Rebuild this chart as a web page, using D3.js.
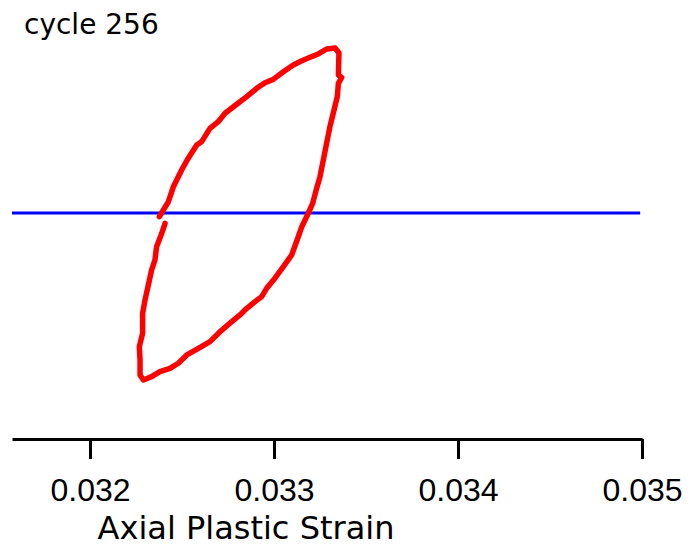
<!DOCTYPE html>
<html lang="en">
<head>
    <meta charset="UTF-8">
    <title>cycle 256</title>
    <script src="https://d3js.org/d3.v7.min.js"></script>
    <style>
        body { margin: 0; background: #fff; }
        svg { display: block; font-family: "DejaVu Sans", sans-serif; }
        .x-axis path, .x-axis line { stroke: #000; stroke-width: 3; }
        .x-axis text { font-size: 32px; fill: #000; font-family: "Liberation Sans", Arial, sans-serif; }
    </style>
</head>
<body>
    <svg id="chart" width="698" height="549"></svg>
    <script>
        // hysteresis loop, cycle 256 (stress normalised, strain)
        const strain = [
            0.032377, 0.032426, 0.032453, 0.032498, 0.032534, 0.032580, 0.032607, 0.032652,
            0.032697, 0.032734, 0.032815, 0.032852, 0.032906, 0.032951, 0.032996, 0.033051,
            0.033105, 0.033151, 0.033196, 0.033241, 0.033286, 0.033332, 0.033353, 0.033350,
            0.033368, 0.033350, 0.033344, 0.033322, 0.033304, 0.033286, 0.033268, 0.033250,
            0.033232, 0.033210, 0.033186, 0.033151, 0.033132, 0.033096, 0.033051, 0.033005,
            0.032960, 0.032933, 0.032897, 0.032852, 0.032815, 0.032761, 0.032707, 0.032652,
            0.032589, 0.032526, 0.032480, 0.032435, 0.032380, 0.032335, 0.032290, 0.032272,
            0.032272, 0.032268, 0.032286, 0.032286, 0.032299, 0.032317, 0.032335, 0.032353,
            0.032362, 0.032390, 0.032408
        ];
        const stress = [
            -0.022, 0.068, 0.158, 0.259, 0.330, 0.410, 0.430, 0.510,
            0.550, 0.601, 0.670, 0.701, 0.751, 0.785, 0.805, 0.851,
            0.892, 0.917, 0.938, 0.958, 0.988, 0.994, 0.964, 0.831,
            0.817, 0.781, 0.701, 0.601, 0.520, 0.420, 0.319, 0.219,
            0.149, 0.058, -0.002, -0.083, -0.143, -0.253, -0.323, -0.393,
            -0.454, -0.504, -0.534, -0.574, -0.614, -0.664, -0.715, -0.775,
            -0.815, -0.855, -0.905, -0.936, -0.956, -0.986, -1.006, -0.976,
            -0.886, -0.805, -0.725, -0.604, -0.524, -0.434, -0.343, -0.283,
            -0.203, -0.122, -0.062
        ];
        const xTicks = [0.032, 0.033, 0.034, 0.035];
        const xDomain = [0.0315761, 0.035];
        const zeroLine = [0];

        const svg = d3.select("#chart");

        const x = d3.scaleLinear().domain(xDomain).range([12, 642]);
        const y = d3.scaleLinear().domain([-1, 1]).range([379, 47]);

        const points = strain.map((s, i) => ({ s, v: stress[i] }));

        // zero stress line
        svg.selectAll(".zero")
            .data(zeroLine)
            .enter()
            .append("line")
            .attr("class", "zero")
            .attr("x1", x(xDomain[0]))
            .attr("x2", x(0.03499))
            .attr("y1", d => y(d))
            .attr("y2", d => y(d))
            .attr("stroke", "#0000ff")
            .attr("stroke-width", 3);

        const line = d3.line()
            .x(d => x(d.s))
            .y(d => y(d.v));

        svg.append("path")
            .datum(points)
            .attr("d", line)
            .attr("fill", "none")
            .attr("stroke", "#ff0000")
            .attr("stroke-width", 5.5)
            .attr("stroke-linejoin", "round")
            .attr("stroke-linecap", "round");

        svg.append("g")
            .attr("class", "x-axis")
            .attr("transform", "translate(0,439)")
            .call(d3.axisBottom(x)
                .tickValues(xTicks)
                .tickSize(20)
                .tickSizeOuter(0)
                .tickPadding(19)
                .tickFormat(d3.format(".3f")));

        svg.append("text")
            .attr("x", 246)
            .attr("y", 539)
            .attr("text-anchor", "middle")
            .attr("font-size", 32)
            .text("Axial Plastic Strain");

        svg.append("text")
            .attr("x", 24)
            .attr("y", 34)
            .attr("font-size", 28)
            .text("cycle 256");
    </script>
</body>
</html>
